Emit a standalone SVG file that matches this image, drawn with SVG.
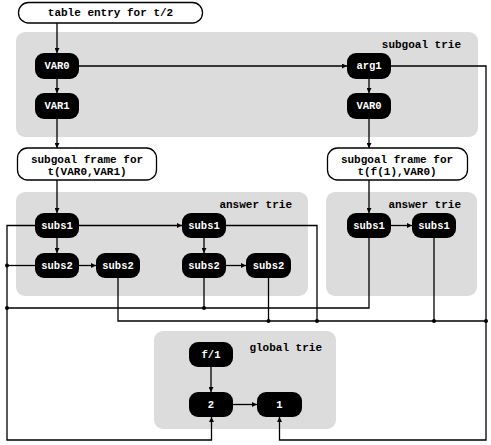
<svg xmlns="http://www.w3.org/2000/svg" width="491" height="445" viewBox="0 0 491 445">
<defs>
<style>
.panel{fill:#dcdcdc;stroke:none}
.node rect{fill:#000;stroke:none}
.node text{fill:#fff;font-family:"Liberation Mono","DejaVu Sans Mono",monospace;font-weight:bold;font-size:10.5px;text-anchor:middle;dominant-baseline:central}
.frame rect{fill:#fff;stroke:#000;stroke-width:1.3}
.frame text,.lbl{fill:#000;font-family:"Liberation Mono","DejaVu Sans Mono",monospace;font-weight:bold;font-size:11px;dominant-baseline:central}
.frame text{text-anchor:middle}
.lbl{text-anchor:end}
.c{fill:none;stroke:#000;stroke-width:1.3}
.a{marker-end:url(#ah)}
.dot{fill:#000}
</style>
<marker id="ah" viewBox="0 0 10 10" refX="10" refY="5" markerWidth="5" markerHeight="5" markerUnits="userSpaceOnUse" orient="auto">
<path d="M0,0 L10,5 L0,10 z" fill="#000"/>
</marker>
</defs>
<g id="panels">
<rect class="panel" x="16" y="32" width="462" height="105" rx="9"/>
<text class="lbl" x="461" y="45">subgoal trie</text>
<rect class="panel" x="16" y="192" width="292" height="104" rx="9"/>
<text class="lbl" x="292" y="205">answer trie</text>
<rect class="panel" x="326" y="192" width="151" height="104" rx="9"/>
<text class="lbl" x="461" y="205">answer trie</text>
<rect class="panel" x="154" y="331" width="182" height="98" rx="9"/>
<text class="lbl" x="322" y="348">global trie</text>
</g>
<g id="connectors">
<path class="c a" d="M57,23 V53"/>
<path class="c a" d="M57,79 V93"/>
<path class="c a" d="M79,66 H347"/>
<path class="c a" d="M369,79 V93"/>
<path class="c a" d="M57,119 V148"/>
<path class="c a" d="M369,119 V148"/>
<path class="c a" d="M57,180 V213"/>
<path class="c a" d="M369,180 V213"/>
<path class="c a" d="M57,238 V253"/>
<path class="c a" d="M79,265.5 H96"/>
<path class="c a" d="M79,225.5 H182"/>
<path class="c a" d="M204,238 V253"/>
<path class="c a" d="M226,265.5 H246"/>
<path class="c a" d="M391,225.5 H412"/>
<path class="c a" d="M211,367 V392"/>
<path class="c a" d="M233,404.5 H257"/>
<path class="c a" d="M35,225.5 H7 V440 H211.5 V417"/>
<path class="c a" d="M391,66 H486 V440 H279.5 V417"/>
<path class="c" d="M35,265.5 H7"/>
<path class="c" d="M7,308 H369 V238"/>
<path class="c" d="M204,278 V308"/>
<path class="c" d="M118,278 V321 H486"/>
<path class="c" d="M268.5,278 V321"/>
<path class="c" d="M226,225.5 H317 V321"/>
<path class="c" d="M434,238 V321"/>
<circle class="dot" cx="7" cy="265.5" r="2"/>
<circle class="dot" cx="7" cy="308" r="2"/>
<circle class="dot" cx="204" cy="308" r="2"/>
<circle class="dot" cx="268.5" cy="321" r="2"/>
<circle class="dot" cx="317" cy="321" r="2"/>
<circle class="dot" cx="434" cy="321" r="2"/>
<circle class="dot" cx="486" cy="321" r="2"/>
</g>
<g id="table-entry" class="frame">
<rect x="18.5" y="2.5" width="184" height="20.5" rx="10"/>
<text x="110.5" y="13">table entry for t/2</text>
</g>
<g id="frame1" class="frame">
<rect x="17.5" y="148" width="139" height="32" rx="10"/>
<text x="87" y="159.5">subgoal frame for</text>
<text x="87" y="172">t(VAR0,VAR1)</text>
</g>
<g id="frame2" class="frame">
<rect x="327.5" y="148" width="140" height="32" rx="10"/>
<text x="397" y="159.5">subgoal frame for</text>
<text x="397" y="172">t(f(1),VAR0)</text>
</g>
<g id="n-var0" class="node"><rect x="35" y="53" width="44" height="26" rx="9"/><text x="57" y="66">VAR0</text></g>
<g id="n-var1" class="node"><rect x="35" y="93" width="44" height="26" rx="9"/><text x="57" y="106">VAR1</text></g>
<g id="n-arg1" class="node"><rect x="347" y="53" width="44" height="26" rx="9"/><text x="369" y="66">arg1</text></g>
<g id="n-var0b" class="node"><rect x="347" y="93" width="44" height="26" rx="9"/><text x="369" y="106">VAR0</text></g>
<g id="n-subs1a" class="node"><rect x="35" y="213" width="44" height="25" rx="9"/><text x="57" y="225.5">subs1</text></g>
<g id="n-subs2a" class="node"><rect x="35" y="253" width="44" height="25" rx="9"/><text x="57" y="265.5">subs2</text></g>
<g id="n-subs2b" class="node"><rect x="96" y="253" width="44" height="25" rx="9"/><text x="118" y="265.5">subs2</text></g>
<g id="n-subs1c" class="node"><rect x="182" y="213" width="44" height="25" rx="9"/><text x="204" y="225.5">subs1</text></g>
<g id="n-subs2c" class="node"><rect x="182" y="253" width="44" height="25" rx="9"/><text x="204" y="265.5">subs2</text></g>
<g id="n-subs2d" class="node"><rect x="246" y="253" width="45" height="25" rx="9"/><text x="268.5" y="265.5">subs2</text></g>
<g id="n-subs1e" class="node"><rect x="347" y="213" width="44" height="25" rx="9"/><text x="369" y="225.5">subs1</text></g>
<g id="n-subs1f" class="node"><rect x="412" y="213" width="44" height="25" rx="9"/><text x="434" y="225.5">subs1</text></g>
<g id="n-f1" class="node"><rect x="189" y="342" width="44" height="25" rx="9"/><text x="211" y="354.5">f/1</text></g>
<g id="n-2" class="node"><rect x="189" y="392" width="44" height="25" rx="9"/><text x="211" y="404.5">2</text></g>
<g id="n-1" class="node"><rect x="257" y="392" width="45" height="25" rx="9"/><text x="279.5" y="404.5">1</text></g>
</svg>
